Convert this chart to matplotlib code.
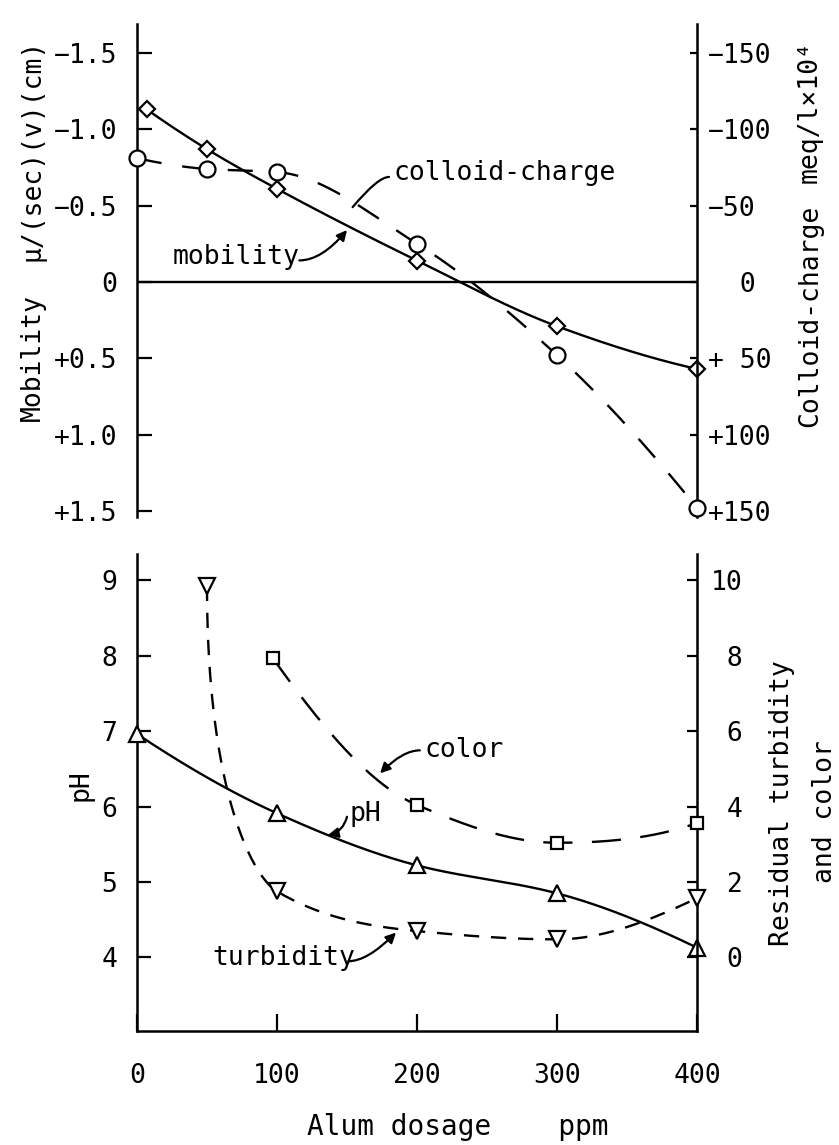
import numpy as np
import matplotlib
matplotlib.use("Agg")
import matplotlib.pyplot as plt

# ---------------- data ----------------
dose_mobility = [7, 50, 100, 200, 300, 400]
mobility = [-1.13, -0.87, -0.61, -0.14, 0.29, 0.57]
dose_charge = [0, 50, 100, 200, 300, 400]
colloid_charge = [-81, -74, -72, -25, 48, 148]

dose_ph = [0, 100, 200, 300, 400]
ph = [6.96, 5.91, 5.22, 4.85, 4.13]
dose_turbidity = [50, 100, 200, 300, 400]
turbidity = [9.85, 1.75, 0.70, 0.48, 1.57]
dose_color = [97, 200, 300, 400]
color = [7.93, 4.04, 3.04, 3.56]

x_ticks = [0, 100, 200, 300, 400]
x_tick_labels = ["0", "100", "200", "300", "400"]
mob_ticks = [-1.5, -1.0, -0.5, 0, 0.5, 1.0, 1.5]
mob_tick_labels = ["−1.5", "−1.0", "−0.5", "0", "+0.5", "+1.0", "+1.5"]
charge_ticks = [-150, -100, -50, 0, 50, 100, 150]
charge_tick_labels = ["−150", "−100", "−50", "  0", "+ 50", "+100", "+150"]
ph_ticks = [4, 5, 6, 7, 8, 9]
ph_tick_labels = ["4", "5", "6", "7", "8", "9"]
res_ticks = [0, 2, 4, 6, 8, 10]
res_tick_labels = [" 0", " 2", " 4", " 6", " 8", "10"]

# ---------------- style ----------------
plt.rcParams['font.family'] = ['DejaVu Sans Mono', 'DejaVu Sans']
plt.rcParams['lines.scale_dashes'] = False
W, H = 839, 1145
fig = plt.figure(figsize=(W / 100, H / 100), dpi=100)
fig.patch.set_facecolor('white')

LW = 1.7
SPW = 1.8
FS = 19


def frac_box(x0, y0, x1, y1):
    return [x0 / W, 1 - y1 / H, (x1 - x0) / W, (y1 - y0) / H]


def ftext(px, py, s, **kw):
    return fig.text(px / W, 1 - py / H, s, **kw)


def pchip_slopes(x, y):
    h = np.diff(x)
    d = np.diff(y) / h
    n = len(x)
    m = np.zeros(n)
    for k in range(1, n - 1):
        if d[k - 1] * d[k] <= 0:
            m[k] = 0.0
        else:
            w1 = 2 * h[k] + h[k - 1]
            w2 = h[k] + 2 * h[k - 1]
            m[k] = (w1 + w2) / (w1 / d[k - 1] + w2 / d[k])

    def end(h0, h1, d0, d1):
        s = ((2 * h0 + h1) * d0 - h0 * d1) / (h0 + h1)
        if np.sign(s) != np.sign(d0):
            s = 0.0
        elif np.sign(d0) != np.sign(d1) and abs(s) > abs(3 * d0):
            s = 3 * d0
        return s

    m[0] = end(h[0], h[1], d[0], d[1])
    m[-1] = end(h[-1], h[-2], d[-1], d[-2])
    return m


def smooth_line(ax, xs, ys, start_dir=None, n=80, **kw):
    pts = ax.transData.transform(np.column_stack([xs, ys]))
    X, Y = pts[:, 0], pts[:, 1]
    m = pchip_slopes(X, Y)
    t = np.linspace(0, 1, n)[:, None]
    h00 = 2 * t**3 - 3 * t**2 + 1
    h10 = t**3 - 2 * t**2 + t
    h01 = -2 * t**3 + 3 * t**2
    h11 = t**3 - t**2
    out = []
    for i in range(len(X) - 1):
        p0 = np.array([X[i], Y[i]])
        p1 = np.array([X[i + 1], Y[i + 1]])
        dx = X[i + 1] - X[i]
        t0 = np.array([dx, dx * m[i]])
        t1 = np.array([dx, dx * m[i + 1]])
        if i == 0 and start_dir is not None:
            t0 = np.asarray(start_dir, float) * np.hypot(*(p1 - p0)) * 2.0
        seg = h00 * p0 + h10 * t0 + h01 * p1 + h11 * t1
        out.append(seg if i == 0 else seg[1:])
    P = np.vstack(out)
    D = ax.transData.inverted().transform(P)
    return ax.plot(D[:, 0], D[:, 1], color='black', lw=LW, clip_on=False, **kw)


def markers(ax, xs, ys, marker, ms):
    ax.plot(xs, ys, linestyle='none', marker=marker, ms=ms, mfc='white',
            mec='black', mew=1.6, clip_on=False, zorder=5)


# ---------------- top panel: mobility / colloid charge ----------------
ax1 = fig.add_axes(frac_box(137, 24, 697, 517))
ax1.set_xlim(0, 400)
ax1.set_ylim(1.54, -1.69)
ax2 = ax1.twinx()
ax2.set_ylim(154, -169)

for sp in ['top', 'bottom', 'right']:
    ax1.spines[sp].set_visible(False)
for sp in ['top', 'bottom', 'left']:
    ax2.spines[sp].set_visible(False)
ax1.spines['left'].set_linewidth(SPW)
ax2.spines['right'].set_linewidth(SPW)
ax1.set_xticks([])
ax1.set_yticks(mob_ticks)
ax1.set_yticklabels(mob_tick_labels)
ax1.tick_params(axis='y', direction='in', length=11, width=1.6, pad=14, labelsize=FS)
ax2.set_yticks(charge_ticks)
ax2.set_yticklabels(charge_tick_labels)
ax2.tick_params(axis='y', direction='in', length=5, width=1.6, pad=8, labelsize=FS)

ax1.axhline(0, color='black', lw=LW)
smooth_line(ax1, dose_mobility, mobility)
markers(ax1, dose_mobility, mobility, 'D', 8)
smooth_line(ax2, dose_charge, colloid_charge, dashes=(18, 15))
markers(ax2, dose_charge, colloid_charge, 'o', 11.5)

# annotations (top)
ax1.text(183, -0.714, "colloid-charge", fontsize=FS, va='center', ha='left')
ax1.annotate("", xy=(154, -0.49), xytext=(180, -0.688),
             arrowprops=dict(arrowstyle='-', color='black', lw=1.6,
                             connectionstyle="angle3,angleA=0,angleB=50",
                             shrinkA=0, shrinkB=0))
ax1.text(25.7, -0.163, "mobility", fontsize=FS, va='center', ha='left')
ax1.annotate("", xy=(150, -0.34), xytext=(116, -0.141),
             arrowprops=dict(arrowstyle='-|>', color='black', lw=1.6,
                             connectionstyle="angle3,angleA=0,angleB=50",
                             shrinkA=0, shrinkB=0, mutation_scale=15))

# ---------------- bottom panel: pH / residual turbidity and color ----------------
ax3 = fig.add_axes(frac_box(137, 554, 697, 1031))
ax3.set_xlim(0, 400)
ax3.set_ylim(3.026, 9.345)
ax4 = ax3.twinx()
ax4.set_ylim(2 * (3.026 - 4), 2 * (9.345 - 4))

ax3.spines['top'].set_visible(False)
ax3.spines['right'].set_visible(False)
for sp in ['top', 'bottom', 'left']:
    ax4.spines[sp].set_visible(False)
for sp in ['left', 'bottom']:
    ax3.spines[sp].set_linewidth(SPW)
ax4.spines['right'].set_linewidth(SPW)

ax3.set_xticks(x_ticks)
ax3.set_xticklabels(x_tick_labels)
ax3.tick_params(axis='x', direction='in', length=12, width=1.6, pad=23, labelsize=FS)
ax3.set_yticks(ph_ticks)
ax3.set_yticklabels(ph_tick_labels)
ax3.tick_params(axis='y', direction='in', length=10, width=1.6, pad=14, labelsize=FS)
ax4.set_yticks(res_ticks)
ax4.set_yticklabels(res_tick_labels)
ax4.tick_params(axis='y', direction='in', length=7, width=1.6, pad=10, labelsize=FS)

smooth_line(ax3, dose_ph, ph)
markers(ax3, dose_ph, ph, '^', 12)
smooth_line(ax4, dose_turbidity, turbidity, start_dir=(0, -1), dashes=(11, 8.5))
markers(ax4, dose_turbidity, turbidity, 'v', 12)
smooth_line(ax4, dose_color, color, dashes=(21, 14))
markers(ax4, dose_color, color, 's', 8)

# annotations (bottom)
ax3.text(205.7, 6.744, "color", fontsize=FS, va='center', ha='left')
ax3.annotate("", xy=(173.6, 6.44), xytext=(202, 6.744),
             arrowprops=dict(arrowstyle='-|>', color='black', lw=1.6,
                             connectionstyle="angle3,angleA=0,angleB=45",
                             shrinkA=0, shrinkB=0, mutation_scale=15))
ax3.text(152, 5.90, "pH", fontsize=FS, va='center', ha='left')
ax3.annotate("", xy=(136.4, 5.62), xytext=(150, 5.864),
             arrowprops=dict(arrowstyle='-|>', color='black', lw=1.6,
                             connectionstyle="arc3,rad=-0.3",
                             shrinkA=0, shrinkB=0, mutation_scale=15))
ax3.text(53.6, 3.99, "turbidity", fontsize=FS, va='center', ha='left')
ax3.annotate("", xy=(185, 4.33), xytext=(151, 3.95),
             arrowprops=dict(arrowstyle='-|>', color='black', lw=1.6,
                             connectionstyle="angle3,angleA=0,angleB=45",
                             shrinkA=0, shrinkB=0, mutation_scale=15))

# ---------------- axis titles ----------------
ftext(33, 358, "Mobility", rotation=90, ha='center', va='center', fontsize=FS)
ftext(33, 150, "μ/(sec)(v)(cm)", rotation=90, ha='center', va='center', fontsize=FS)
ftext(810, 316, "Colloid-charge", rotation=90, ha='center', va='center', fontsize=FS)
ftext(810, 112, "meq/l×10⁴", rotation=90, ha='center', va='center', fontsize=FS)
ftext(80, 785, "pH", rotation=90, ha='center', va='center', fontsize=FS)
ftext(782, 803, "Residual turbidity", rotation=90, ha='center', va='center', fontsize=FS)
ftext(825, 812, "and color", rotation=90, ha='center', va='center', fontsize=FS)
ftext(458, 1127, "Alum dosage    ppm", ha='center', va='center', fontsize=20)

fig.savefig("out.png", dpi=100, facecolor='white')
